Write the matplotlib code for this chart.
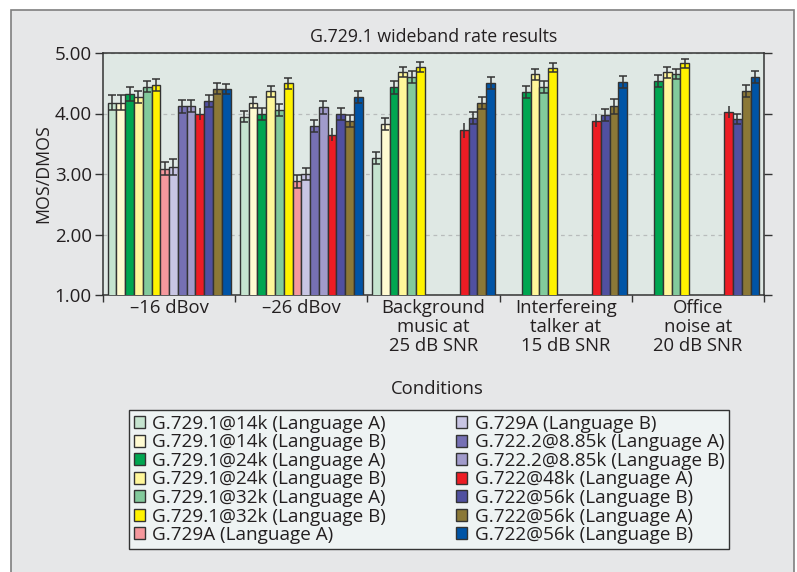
import numpy as np
import matplotlib
matplotlib.use("Agg")
import matplotlib.pyplot as plt
from matplotlib.patches import Rectangle

plt.rcParams["font.family"] = ["Open Sans", "DejaVu Sans"]

# --------------------------------------------------
# Data
# --------------------------------------------------

conditions = [
    "\u201316 dBov",
    "\u201326 dBov",
    "Background\nmusic at\n25 dB SNR",
    "Interfereing\ntalker at\n15 dB SNR",
    "Office\nnoise at\n20 dB SNR",
]

series_names = [
    "G.729.1@14k (Language A)",
    "G.729.1@14k (Language B)",
    "G.729.1@24k (Language A)",
    "G.729.1@24k (Language B)",
    "G.729.1@32k (Language A)",
    "G.729.1@32k (Language B)",
    "G.729A (Language A)",
    "G.729A (Language B)",
    "G.722.2@8.85k (Language A)",
    "G.722.2@8.85k (Language B)",
    "G.722@48k (Language A)",
    "G.722@56k (Language B)",
    "G.722@56k (Language A)",
    "G.722@56k (Language B)",
]

nan = np.nan
g7291_14k_a = [4.18, 3.95, 3.27, nan, nan]
g7291_14k_b = [4.18, 4.18, 3.82, nan, nan]
g7291_24k_a = [4.32, 3.99, 4.43, 4.36, 4.54]
g7291_24k_b = [4.28, 4.37, 4.69, 4.65, 4.68]
g7291_32k_a = [4.44, 4.06, 4.60, 4.44, 4.65]
g7291_32k_b = [4.47, 4.50, 4.77, 4.76, 4.83]
g729a_a = [3.09, 2.88, nan, nan, nan]
g729a_b = [3.12, 3.00, nan, nan, nan]
g7222_a = [4.12, 3.79, nan, nan, nan]
g7222_b = [4.12, 4.10, nan, nan, nan]
g722_48k_a = [3.99, 3.65, 3.72, 3.88, 4.03]
g722_56k_b1 = [4.20, 3.99, 3.93, 3.97, 3.91]
g722_56k_a = [4.41, 3.88, 4.18, 4.12, 4.37]
g722_56k_b2 = [4.41, 4.28, 4.51, 4.52, 4.60]

err_14k_a = [0.12, 0.09, 0.10, nan, nan]
err_14k_b = [0.12, 0.09, 0.10, nan, nan]
err_24k_a = [0.11, 0.10, 0.10, 0.10, 0.10]
err_24k_b = [0.10, 0.09, 0.08, 0.09, 0.09]
err_32k_a = [0.09, 0.10, 0.10, 0.10, 0.08]
err_32k_b = [0.10, 0.09, 0.08, 0.08, 0.07]
err_729a_a = [0.11, 0.11, nan, nan, nan]
err_729a_b = [0.13, 0.10, nan, nan, nan]
err_7222_a = [0.11, 0.10, nan, nan, nan]
err_7222_b = [0.10, 0.10, nan, nan, nan]
err_48k_a = [0.10, 0.11, 0.12, 0.11, 0.10]
err_56k_b1 = [0.10, 0.10, 0.10, 0.10, 0.08]
err_56k_a = [0.09, 0.10, 0.10, 0.12, 0.10]
err_56k_b2 = [0.08, 0.10, 0.10, 0.10, 0.10]

values = [g7291_14k_a, g7291_14k_b, g7291_24k_a, g7291_24k_b, g7291_32k_a,
          g7291_32k_b, g729a_a, g729a_b, g7222_a, g7222_b, g722_48k_a,
          g722_56k_b1, g722_56k_a, g722_56k_b2]
errors = [err_14k_a, err_14k_b, err_24k_a, err_24k_b, err_32k_a, err_32k_b,
          err_729a_a, err_729a_b, err_7222_a, err_7222_b, err_48k_a,
          err_56k_b1, err_56k_a, err_56k_b2]

colors = ["#c5e4cf", "#fffbd2", "#00a651", "#fff79a", "#82ca9c", "#fff200",
          "#f5989d", "#c8c5e3", "#7670b4", "#a19bcb", "#ed1c24", "#5050a0",
          "#8b7837", "#0054a6"]

# --------------------------------------------------
# Figure
# --------------------------------------------------

W, H = 797, 572
fig = plt.figure(figsize=(W / 100, H / 100), dpi=100, facecolor="white")
fig.patches.append(Rectangle((11 / W, -0.1), (794 - 11) / W, 1.1 - 10 / H,
                             transform=fig.transFigure, facecolor="#e6e7e8",
                             edgecolor="#7f7f7f", linewidth=1.2, zorder=-10))

ax = fig.add_axes([103 / W, 1 - 295 / H, (764 - 103) / W, (295 - 53) / H])
ax.set_facecolor("#dfe8e4")

n_series = len(values)
width = 0.0665
x = np.arange(len(conditions)) + 0.5

for i in range(n_series):
    offs = (i - (n_series - 1) / 2) * width
    ax.bar(x + offs, values[i], width, color=colors[i], edgecolor="#333333",
           linewidth=1.0, label=series_names[i], zorder=3)
    ax.errorbar(x + offs, values[i], yerr=errors[i], fmt="none",
                ecolor="#333333", elinewidth=1.1,
                capsize=0 if i == 10 else 3.2, capthick=1.1, zorder=4)

ax.set_xlim(0, 5)
ax.set_ylim(1, 5)
ax.set_yticks([1, 2, 3, 4, 5])
ax.set_yticklabels(["1.00", "2.00", "3.00", "4.00", "5.00"], fontsize=13.5,
                   color="#231f20")
ax.set_xticks(np.arange(6))
ax.set_xticklabels([])
ax.set_xticks(x, minor=True)
ax.set_xticklabels(conditions, minor=True, fontsize=13.3, color="#231f20",
                   linespacing=1.05)
ax.tick_params(axis="x", which="minor", length=0, pad=3)
ax.tick_params(axis="x", which="major", length=5, width=1, color="#333333")
ax.tick_params(axis="y", which="major", left=True, right=True, length=6,
               width=1, color="#333333", pad=2)

ax.grid(axis="y", linestyle=(0, (3, 3)), color="#b8bcbc", linewidth=0.9,
        zorder=1)
for s in ax.spines.values():
    s.set_color("#333333")
    s.set_linewidth(1.1)

fig.text(433.5 / W, 1 - 37 / H, "G.729.1 wideband rate results", fontsize=12.8,
         ha="center", va="center", color="#231f20")
fig.text(43 / W, 1 - 174 / H, "MOS/DMOS", fontsize=12.8, rotation=90,
         ha="center", va="center", color="#231f20")
fig.text(437 / W, 1 - 389 / H, "Conditions", fontsize=13.3, ha="center",
         va="center", color="#231f20")

leg = fig.legend(loc="upper left", ncol=2,
                 bbox_to_anchor=(129 / W, 1 - 410 / H),
                 fontsize=13.6, frameon=True, fancybox=False,
                 handlelength=0.6, handleheight=0.6, handletextpad=0.38,
                 labelspacing=0.03, borderpad=0.25, borderaxespad=0,
                 columnspacing=3.7)
leg.get_frame().set_facecolor("#eef3f3")
leg.get_frame().set_edgecolor("#333333")
leg.get_frame().set_linewidth(1.0)
leg.get_frame().set_alpha(1)
for t in leg.get_texts():
    t.set_color("#231f20")

fig.savefig("out.png", dpi=100)
print("Figure Saved.")
